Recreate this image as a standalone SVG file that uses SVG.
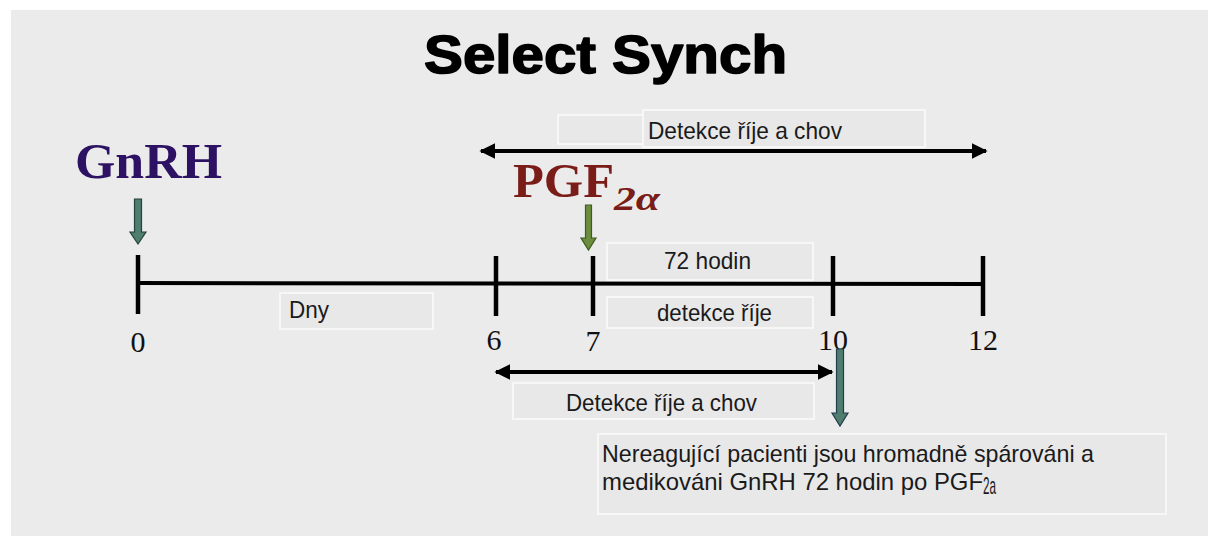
<svg xmlns="http://www.w3.org/2000/svg" width="1208" height="536" viewBox="0 0 1208 536">
<defs>
<style>
.box{fill:#e8e8e8;stroke:#f7f7f7;stroke-width:2}
.lbl{font-family:"Liberation Sans Narrow","Liberation Sans",Arial,sans-serif;font-size:24px;fill:#1a1a1a}
.num{font-family:"Liberation Serif","Times New Roman",serif;font-size:30px;fill:#111}
.axis{stroke:#000;stroke-width:4;fill:none}
.tick{stroke:#000;stroke-width:4.5}
.dbl{stroke:#000;stroke-width:4;marker-start:url(#ah);marker-end:url(#ah)}
</style>
<marker id="ah" viewBox="0 0 10 10" refX="9" refY="5" markerWidth="4" markerHeight="4" orient="auto-start-reverse" markerUnits="strokeWidth">
<path d="M0,0 L10,5 L0,10 z" fill="#000"/>
</marker>
</defs>
<rect x="0" y="0" width="1208" height="536" fill="#ffffff"/>
<rect x="11" y="10" width="1197" height="526" fill="#ebebeb"/>

<g id="title">
<text x="424" y="73" font-family="'Liberation Sans',Arial,sans-serif" font-weight="bold" font-size="54" textLength="363" lengthAdjust="spacingAndGlyphs" fill="#000" stroke="#000" stroke-width="1.6" stroke-linejoin="round">Select Synch</text>
</g>

<g id="gnrh">
<text x="75" y="178" font-family="'Liberation Serif','Times New Roman',serif" font-weight="bold" font-size="50" textLength="147" lengthAdjust="spacingAndGlyphs" fill="#2d1163">GnRH</text>
</g>

<g id="pgf">
<text x="513" y="197" font-family="'Liberation Serif','Times New Roman',serif" font-weight="bold" font-size="48" textLength="101" lengthAdjust="spacingAndGlyphs" fill="#7a1c17">PGF</text>
<text x="614" y="210" font-family="'Liberation Serif','Times New Roman',serif" font-weight="bold" font-style="italic" font-size="34" textLength="46" lengthAdjust="spacingAndGlyphs" fill="#7a1c17">2α</text>
</g>

<g id="timeline">
<line class="axis" x1="137" y1="283" x2="983" y2="284"/>
<line class="tick" x1="138" y1="255" x2="138" y2="314"/>
<line class="tick" x1="496" y1="256" x2="496" y2="316"/>
<line class="tick" x1="593" y1="256" x2="593" y2="316"/>
<line class="tick" x1="833" y1="256" x2="833" y2="316"/>
<line class="tick" x1="983" y1="256" x2="983" y2="316"/>
<text class="num" x="138" y="352" text-anchor="middle">0</text>
<text class="num" x="494" y="350" text-anchor="middle">6</text>
<text class="num" x="593" y="351" text-anchor="middle">7</text>
<text class="num" x="833" y="350" text-anchor="middle">10</text>
<text class="num" x="983" y="350" text-anchor="middle">12</text>
</g>

<g id="label-top">
<rect class="box" x="558" y="115" width="86" height="29"/>
<rect class="box" x="643" y="110" width="282" height="37"/>
<text class="lbl" x="648" y="139" textLength="194" lengthAdjust="spacingAndGlyphs">Detekce říje a chov</text>
</g>

<g id="label-72">
<rect class="box" x="607" y="243" width="206" height="37"/>
<text class="lbl" x="664" y="269" textLength="87" lengthAdjust="spacingAndGlyphs">72 hodin</text>
</g>

<g id="label-detekce">
<rect class="box" x="607" y="297" width="206" height="31"/>
<text class="lbl" x="657" y="321" textLength="115" lengthAdjust="spacingAndGlyphs">detekce říje</text>
</g>

<g id="label-dny">
<rect class="box" x="280" y="293" width="153" height="36"/>
<text class="lbl" x="289" y="318" textLength="40" lengthAdjust="spacingAndGlyphs">Dny</text>
</g>

<g id="label-bottom">
<rect class="box" x="513" y="383" width="301" height="36"/>
<text class="lbl" x="566" y="411" textLength="191" lengthAdjust="spacingAndGlyphs">Detekce říje a chov</text>
</g>

<g id="note">
<rect class="box" x="598" y="434" width="568" height="80"/>
<text class="lbl" x="602" y="462" font-size="25" textLength="492" lengthAdjust="spacingAndGlyphs">Nereagující pacienti jsou hromadně spárováni a</text>
<text class="lbl" x="602" y="490" font-size="25" textLength="381" lengthAdjust="spacingAndGlyphs">medikováni GnRH 72 hodin po PGF</text>
<text class="lbl" x="983" y="494" font-size="15" textLength="13" lengthAdjust="spacingAndGlyphs">2a</text>
</g>

<g id="connectors">
<line class="dbl" x1="481" y1="151" x2="986" y2="151"/>
<line class="dbl" x1="496" y1="372" x2="832" y2="372"/>
<path d="M134.5,199 L141.5,199 L141.5,232 L146,232 L138,244 L130,232 L134.5,232 Z" fill="#4f7d6e" stroke="#25423c" stroke-width="1.2"/>
<path d="M585.5,205 L591.5,205 L591.5,238 L596,238 L588.5,250 L581,238 L585.5,238 Z" fill="#6b8d3e" stroke="#3f5a22" stroke-width="1.2"/>
<path d="M836.5,349 L843.5,349 L843.5,413 L848,413 L840,426 L832,413 L836.5,413 Z" fill="#4f7d6e" stroke="#243c4e" stroke-width="1.2"/>
</g>
</svg>
